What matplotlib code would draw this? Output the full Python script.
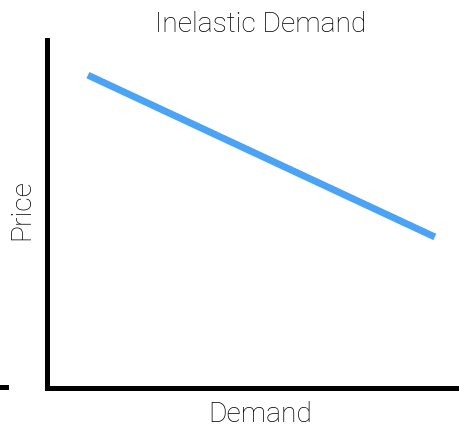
import matplotlib
matplotlib.use("Agg")
import matplotlib.pyplot as plt
from matplotlib.lines import Line2D

demand = [0.098, 0.939]
price = [0.899, 0.434]
title = "Inelastic Demand"
xlabel = "Demand"
ylabel = "Price"

W, H = 460, 428
fig = plt.figure(figsize=(W / 100, H / 100), dpi=100)
left, right, top, bottom = 47.5, 460, 40, 388
ax = fig.add_axes([left / W, (H - bottom) / H, (right - left) / W, (bottom - top) / H])
ax.plot(demand, price, color="#4aa3f5", linewidth=5, solid_capstyle="butt")
ax.set_xlim(0, 1)
ax.set_ylim(0, 1)
ax.set_xticks([])
ax.set_yticks([])
for s in ["top", "right"]:
    ax.spines[s].set_visible(False)
for s in ["left", "bottom"]:
    ax.spines[s].set_linewidth(3.6)
    ax.spines[s].set_color("black")
    ax.spines[s].set_capstyle("projecting")

font = dict(family=["Roboto", "DejaVu Sans"], fontweight="light", color="#000000")
fig.text(260.5 / W, 1 - 24 / H, title, ha="center", va="center", fontsize=20.3, **font)
fig.text(260 / W, 1 - 414 / H, xlabel, ha="center", va="center", fontsize=20.3, **font)
fig.text(22 / W, 1 - 210 / H, ylabel, ha="center", va="center", rotation=90, fontsize=20.3, **font)

fig.add_artist(Line2D([0, 6 / W], [1 - 386.5 / H, 1 - 386.5 / H], color="black", linewidth=3.6,
                      transform=fig.transFigure))

fig.savefig("out.png", dpi=100)
